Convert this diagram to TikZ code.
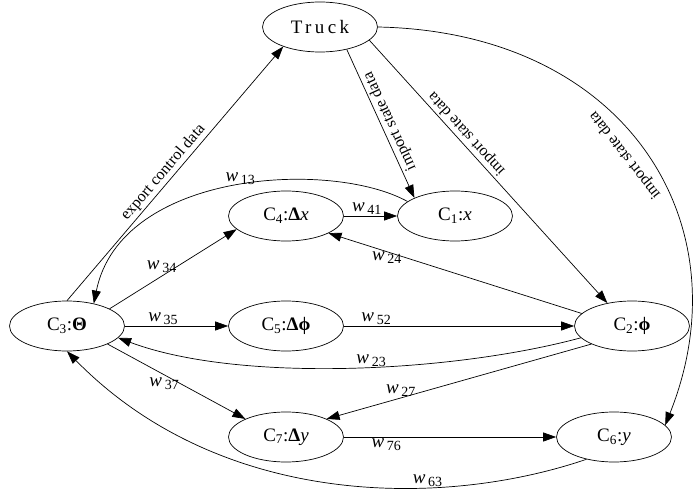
\documentclass[tikz,border=0pt]{standalone}
\usepackage{fontspec}
\setmainfont{Liberation Serif}
\usetikzlibrary{arrows.meta,shapes.geometric}
\newcommand\nodefont{\fontsize{19}{22}\selectfont}
\newcommand\labfont{\fontsize{16}{18}\selectfont}
\newcommand\wl[1]{{\fontsize{19}{19}\selectfont\textit{w}}\,\raisebox{-3pt}{\fontsize{14}{14}\selectfont #1}}

\begin{document}
\begin{tikzpicture}[x=1pt,y=1pt,
  state/.style={draw,ellipse,line width=.7pt,minimum width=115pt,minimum height=50pt,inner sep=0pt,font=\nodefont},
  arc/.style={line width=.7pt,-{Triangle[length=13pt,width=9pt]}},
  lab/.style={font=\labfont,inner sep=2pt}]
\useasboundingbox (0,0) rectangle (694,491);
\node[state] (truck) at (320,464) {\addfontfeature{LetterSpace=18}Truck};
\node[state] (c4) at (286,275) {C\textsubscript{4}:\textbf{Δ}\textit{x}};
\node[state] (c1) at (455,275) {C\textsubscript{1}:\textit{x}};
\node[state] (c3) at (67,165) {C\textsubscript{3}:\textbf{Θ}};
\node[state] (c5) at (286,165) {C\textsubscript{5}:\textbf{Δϕ}};
\node[state] (c2) at (632,165) {C\textsubscript{2}:\textbf{ϕ}};
\node[state] (c7) at (286,54) {C\textsubscript{7}:\textbf{Δ}\textit{y}};
\node[state] (c6) at (614,54) {C\textsubscript{6}:\textit{y}};
\draw[arc] (c3.north)--node[lab,sloped,above,pos=.48] {export control data} (truck.208);
\draw[arc] (truck.-40)--node[lab,pos=.51,rotate=114.7,anchor=north] {import state data} (c1.156);
\draw[arc] (truck.-15)--node[lab,pos=.38,rotate=132.2,anchor=north] {import state data} (c2.137);
\draw[arc] (truck.east) .. controls +(250,-5) and +(80,200) .. node[lab,pos=.48,rotate=128,anchor=south,inner ysep=10pt] {import state data} (c6.13);
\draw[arc] (c4)--node[lab,above,pos=.43,inner sep=1pt] {\wl{41}} (c1);
\draw[arc] (c1.163) .. controls +(-76,42) and +(27,133) .. node[lab,above,pos=.48,inner sep=0pt] {\wl{13}} (c3.40);
\draw[arc] (c3.22)--node[lab,above,pos=.41,inner sep=3pt] {\wl{34}} (c4.195);
\draw[arc] (c3)--node[lab,above,pos=.37,inner sep=1pt] {\wl{35}} (c5);
\draw[arc] (c5)--node[lab,above,pos=.14,inner sep=1pt] {\wl{52}} (c2);
\draw[arc] (c2.166)--node[lab,below,pos=.77,inner sep=0pt] {\wl{24}} (c4.-22);
\draw[arc] (c2.193) .. controls +(-130,-35) and +(120,-45) .. node[lab,above,pos=.45,inner sep=0pt] {\wl{23}} (c3.-13);
\draw[arc] (c2.204)--node[lab,above,pos=.72,inner sep=1pt] {\wl{27}} (c7.24);
\draw[arc] (c3.-24)--node[lab,below,pos=.41,inner sep=3pt] {\wl{37}} (c7.156);
\draw[arc] (c7)--node[lab,below,pos=.2,inner sep=1pt] {\wl{76}} (c6);
\draw[arc] (c6.219) .. controls +(-147,-50) and +(152,-155) .. node[lab,above,pos=.32,inner sep=1pt] {\wl{63}} (c3.south);
\end{tikzpicture}
\end{document}
